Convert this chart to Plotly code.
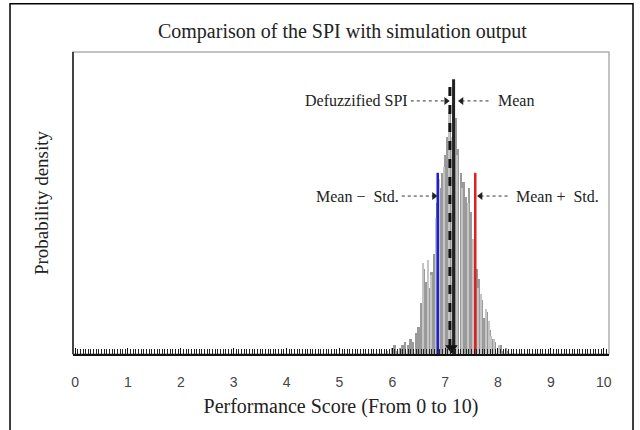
import plotly.graph_objects as go

# ---- data ----
dark_x = [5.90, 6.00, 6.05, 6.10, 6.15, 6.20, 6.25, 6.30, 6.35, 6.40, 6.45, 6.50, 6.55, 6.60,
          6.65, 6.70, 6.75, 6.80, 6.85, 6.90, 6.95, 7.00, 7.05, 7.10, 7.15, 7.20, 7.25, 7.30,
          7.35, 7.40, 7.45, 7.50, 7.55, 7.60, 7.65, 7.70, 7.75, 7.80, 7.85, 7.90, 7.95, 8.00,
          8.05, 8.10, 8.15, 8.20]
dark_y = [0.01, 0.02, 0.03, 0.01, 0.02, 0.03, 0.04, 0.03, 0.05, 0.04, 0.07, 0.09, 0.17, 0.28,
          0.24, 0.22, 0.27, 0.33, 0.50, 0.55, 0.60, 0.66, 0.72, 0.80, 0.88, 0.78, 0.68, 0.60,
          0.57, 0.52, 0.55, 0.47, 0.35, 0.28, 0.25, 0.18, 0.12, 0.14, 0.08, 0.05, 0.04, 0.02,
          0.03, 0.01, 0.02, 0.01]
light_x = [6.575, 6.675, 6.725, 6.825, 6.875, 6.975, 7.075, 7.125, 7.225, 7.325, 7.425,
           7.525, 7.625, 7.675, 7.775, 7.825, 7.875, 7.925, 8.025]
light_y = [0.30, 0.31, 0.26, 0.45, 0.58, 0.62, 0.80, 0.72, 0.66, 0.55, 0.50,
           0.38, 0.22, 0.20, 0.15, 0.11, 0.06, 0.05, 0.03]

spi_value = 7.09
mean_value = 7.16
mean_minus_std = 6.86
mean_plus_std = 7.57
center_line_top = 0.91
std_line_top = 0.60

tick_vals = list(range(0, 11))
tick_text = [str(v) for v in tick_vals]

SERIF = "Liberation Serif"

fig = go.Figure()
fig.add_trace(go.Bar(x=dark_x, y=dark_y, width=0.035, marker=dict(color="#9a9a9a", line=dict(width=0)),
                     showlegend=False, hoverinfo="skip"))
fig.add_trace(go.Bar(x=light_x, y=light_y, width=0.02, marker=dict(color="#c4c4c4", line=dict(width=0)),
                     showlegend=False, hoverinfo="skip"))

# vertical reference lines
fig.add_trace(go.Scatter(x=[mean_value, mean_value], y=[0, center_line_top], mode="lines",
                         line=dict(color="#222222", width=3), showlegend=False, hoverinfo="skip"))
fig.add_trace(go.Scatter(x=[spi_value, spi_value], y=[0.02, center_line_top], mode="lines",
                         line=dict(color="#111111", width=3, dash="dash"), showlegend=False, hoverinfo="skip"))
fig.add_trace(go.Scatter(x=[spi_value + 0.03], y=[0.02], mode="markers",
                         marker=dict(symbol="triangle-down", size=11, color="#111111"),
                         showlegend=False, hoverinfo="skip"))
fig.add_trace(go.Scatter(x=[mean_minus_std, mean_minus_std], y=[0, std_line_top], mode="lines",
                         line=dict(color="#1f1fd0", width=2.5), showlegend=False, hoverinfo="skip"))
fig.add_trace(go.Scatter(x=[mean_plus_std, mean_plus_std], y=[0, std_line_top], mode="lines",
                         line=dict(color="#e02020", width=2.5), showlegend=False, hoverinfo="skip"))

# dashed pointer arrows
def pointer(x0, x1, y, direction):
    fig.add_trace(go.Scatter(x=[x0, x1], y=[y, y], mode="lines",
                             line=dict(color="#333333", width=1, dash="dot"),
                             showlegend=False, hoverinfo="skip"))
    tip = x1 if direction == "right" else x0
    fig.add_trace(go.Scatter(x=[tip], y=[y], mode="markers",
                             marker=dict(symbol="triangle-" + direction, size=7, color="#222222"),
                             showlegend=False, hoverinfo="skip"))

y_top_label = 0.838
y_std_label = 0.523
pointer(6.35, 7.02, y_top_label, "right")
pointer(7.31, 7.86, y_top_label, "left")
pointer(6.18, 6.79, y_std_label, "right")
pointer(7.67, 8.20, y_std_label, "left")

label_font = dict(family=SERIF, size=16, color="#222222")
fig.add_annotation(x=6.33, y=y_top_label, text="Defuzzified SPI", showarrow=False,
                   xanchor="right", yanchor="middle", font=label_font)
fig.add_annotation(x=7.97, y=y_top_label, text="Mean", showarrow=False,
                   xanchor="left", yanchor="middle", font=label_font)
fig.add_annotation(x=6.16, y=y_std_label, text="Mean \u2212  Std.", showarrow=False,
                   xanchor="right", yanchor="middle", font=label_font)
fig.add_annotation(x=8.30, y=y_std_label, text="Mean +  Std.", showarrow=False,
                   xanchor="left", yanchor="middle", font=label_font)

# plot frame and outer frame
fig.add_shape(type="rect", xref="paper", yref="paper", x0=0, x1=1, y0=0, y1=1,
              line=dict(color="#b0b0b0", width=1.5), layer="below")
fig.add_shape(type="line", xref="paper", yref="paper", x0=0, x1=0, y0=0, y1=1,
              line=dict(color="#444444", width=2))
fig.add_shape(type="rect", xref="paper", yref="paper", x0=-0.1175, x1=1.0448, y0=-0.30, y1=1.160,
              line=dict(color="#000000", width=1.5), fillcolor="rgba(0,0,0,0)")

fig.update_layout(
    width=640, height=430,
    margin=dict(l=73, r=31, t=52, b=76, autoexpand=False),
    paper_bgcolor="white", plot_bgcolor="white",
    barmode="overlay", bargap=0,
    title=dict(text="Comparison of the SPI with simulation output", x=0.535, xanchor="center",
               y=0.928, yanchor="middle", font=dict(family=SERIF, size=20, color="#222222")),
    xaxis=dict(range=[-0.04, 10.1], tickvals=tick_vals, ticktext=tick_text, automargin=False,
               showgrid=False, zeroline=False, showline=True, linecolor="#111111", linewidth=1.5,
               ticks="inside", ticklen=6, tickcolor="#111111", tickwidth=1,
               minor=dict(dtick=0.05, tick0=0, ticks="inside", ticklen=5, tickcolor="#222222", tickwidth=1),
               ticklabelstandoff=14,
               tickfont=dict(family="Liberation Sans", size=14, color="#444444"),
               title=dict(text="Performance Score (From 0 to 10)", standoff=10,
                          font=dict(family=SERIF, size=20, color="#222222"))),
    yaxis=dict(range=[0, 1], showticklabels=False, showgrid=False, zeroline=False, automargin=False,
               showline=False, ticks="",
               title=dict(text="Probability density", standoff=18,
                          font=dict(family=SERIF, size=19, color="#222222"))),
)

fig.write_html("out.html", config={"displayModeBar": False},
               post_script="document.body.style.margin='0';document.body.style.padding='0';")
